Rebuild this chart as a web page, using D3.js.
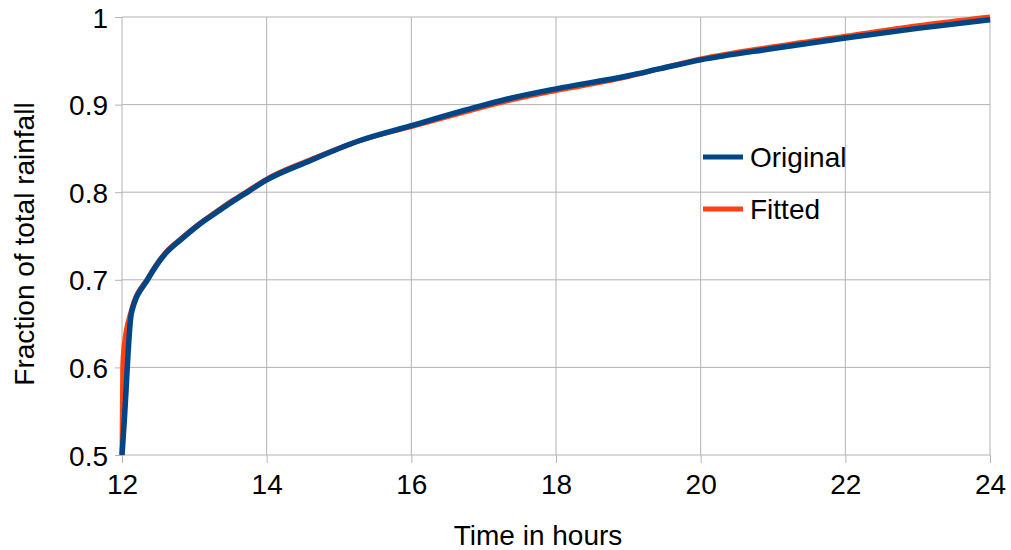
<!DOCTYPE html>
<html>
<head>
<meta charset="utf-8">
<script src="https://cdn.jsdelivr.net/npm/d3@7"></script>
<style>
  html, body { margin: 0; padding: 0; background: #fff; }
  #chart { width: 1011px; height: 550px; }
  text { font-family: "Liberation Sans", Arial, sans-serif; fill: #000; }
  .grid line { stroke: #b3b3b3; stroke-width: 1; }
  .axis path { display: none; }
  .axis line { stroke: #b3b3b3; }
  .axis text { font-size: 28px; }
  .axis-title { font-size: 28px; }
  .legend text { font-size: 28px; }
</style>
</head>
<body>
<div id="chart"></div>
<script>
// values
const hours =    [12.0, 12.01, 12.03, 12.13, 12.36, 12.59, 12.83, 13.05, 13.29, 13.52, 13.75, 14.0, 14.6, 15.29, 16.0, 16.67, 17.36, 18.0, 19.0, 19.44, 20.0, 21.0, 22.0, 23.0, 24.0];
const original = [0.500, 0.512, 0.537, 0.662, 0.701, 0.729, 0.747, 0.762, 0.776, 0.789, 0.801, 0.814, 0.836, 0.859, 0.876, 0.892, 0.907, 0.918, 0.933, 0.941, 0.951, 0.964, 0.976, 0.987, 0.997];
const fitted =   [0.500, 0.600, 0.625, 0.665, 0.702, 0.730, 0.748, 0.763, 0.777, 0.790, 0.802, 0.815, 0.837, 0.859, 0.875, 0.890, 0.905, 0.916, 0.932, 0.941, 0.952, 0.966, 0.978, 0.990, 1.000];
const xTicks = [12, 14, 16, 18, 20, 22, 24];
const yTicks = [0.5, 0.6, 0.7, 0.8, 0.9, 1];
const seriesNames = ['Original', 'Fitted'];
const seriesColors = ['#004586', '#ff420e'];

const width = 1011, height = 550;
const MARGIN = { top: 17, right: 21, bottom: 95, left: 122 };
const innerW = width - MARGIN.left - MARGIN.right;
const innerH = height - MARGIN.top - MARGIN.bottom;

const svg = d3.select('#chart').append('svg')
  .attr('width', width).attr('height', height)
  .attr('viewBox', `0 0 ${width} ${height}`);
const g = svg.append('g').attr('transform', `translate(${MARGIN.left},${MARGIN.top})`);

const x = d3.scaleLinear().domain([12, 24]).range([0, innerW]);
const y = d3.scaleLinear().domain([0.5, 1]).range([innerH, 0]);

// grid
g.append('g').attr('class', 'grid')
  .selectAll('line').data(xTicks).join('line')
  .attr('x1', (d) => x(d)).attr('x2', (d) => x(d))
  .attr('y1', 0).attr('y2', innerH);
g.append('g').attr('class', 'grid')
  .selectAll('line').data(yTicks).join('line')
  .attr('x1', 0).attr('x2', innerW)
  .attr('y1', (d) => y(d)).attr('y2', (d) => y(d));

const fmtY = (d) => (d === 1 ? '1' : d3.format('.1f')(d));

g.append('g').attr('class', 'axis')
  .attr('transform', `translate(0,${innerH})`)
  .call(d3.axisBottom(x).tickValues(xTicks).tickSize(8).tickPadding(8).tickFormat(d3.format('d')))
  .call((s) => s.selectAll('text').attr('y', 39).attr('dy', 0));
g.append('g').attr('class', 'axis')
  .call(d3.axisLeft(y).tickValues(yTicks).tickSize(7).tickPadding(7).tickFormat(fmtY))
  .call((s) => s.selectAll('text').attr('dy', '0.36em'));

// axis titles
svg.append('text').attr('class', 'axis-title')
  .attr('x', 538).attr('y', 545)
  .attr('text-anchor', 'middle').text('Time in hours');
svg.append('text').attr('class', 'axis-title')
  .attr('transform', 'rotate(-90)')
  .attr('x', -244).attr('y', 34)
  .attr('text-anchor', 'middle').text('Fraction of total rainfall');

// lines (fitted under original)
const line = d3.line().x((d) => x(d[0])).y((d) => y(d[1])).curve(d3.curveMonotoneX);
const fittedPts = hours.map((h, i) => [h, fitted[i]]);
const originalPts = hours.map((h, i) => [h, original[i]]);
g.append('path').datum(fittedPts)
  .attr('fill', 'none').attr('stroke', seriesColors[1]).attr('stroke-width', 5)
  .attr('stroke-linejoin', 'round').attr('d', line);
g.append('path').datum(originalPts)
  .attr('fill', 'none').attr('stroke', seriesColors[0]).attr('stroke-width', 5.5)
  .attr('stroke-linejoin', 'round').attr('d', line);

// legend
const legend = svg.append('g').attr('class', 'legend').attr('transform', 'translate(703,157)');
seriesNames.forEach((name, i) => {
  const row = legend.append('g').attr('transform', `translate(0,${i * 52})`);
  row.append('line').attr('x1', 0).attr('x2', 40).attr('y1', 0).attr('y2', 0)
    .attr('stroke', seriesColors[i]).attr('stroke-width', 5);
  row.append('text').attr('x', 47).attr('y', 0).attr('dy', '0.36em').text(name);
});
</script>
</body>
</html>
